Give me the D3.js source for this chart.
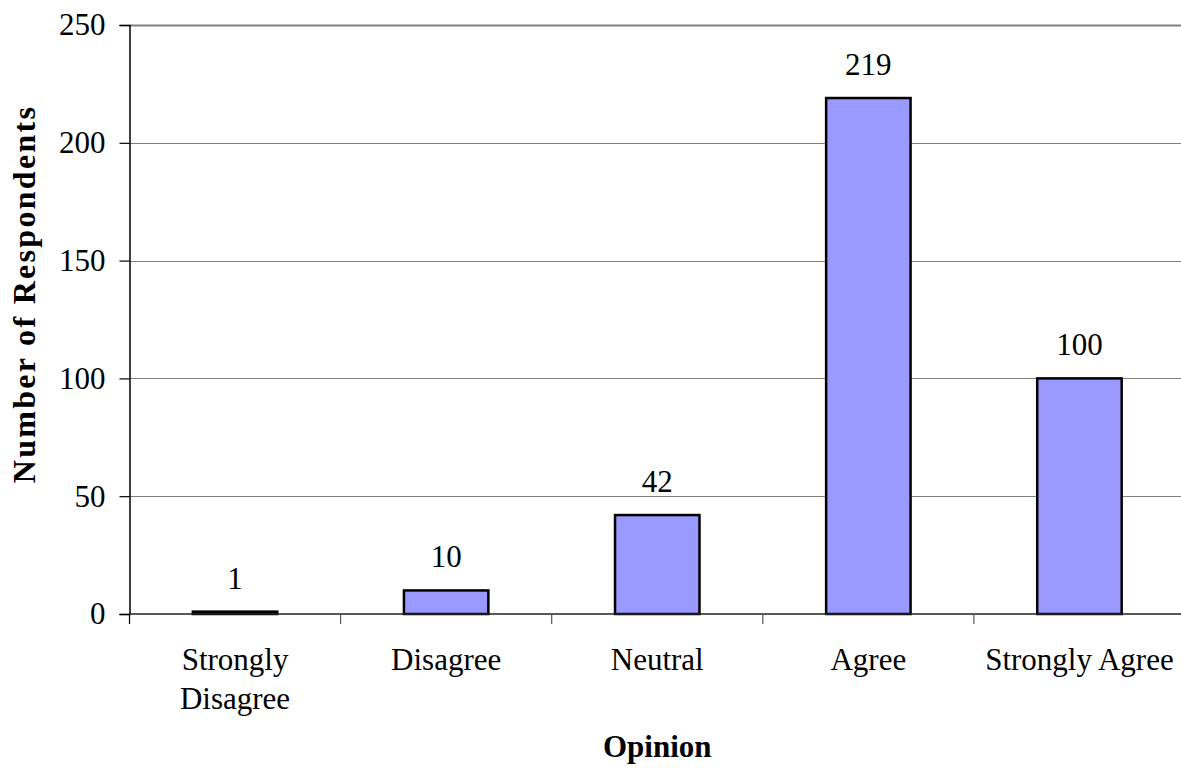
<!DOCTYPE html>
<html>
<head>
<meta charset="utf-8">
<script src="https://cdn.jsdelivr.net/npm/d3@7"></script>
<style>
  html, body { margin: 0; padding: 0; background: #fff; }
  svg { display: block; }
  text { font-family: "Liberation Serif", "Times New Roman", serif; fill: #000; }
</style>
</head>
<body>
<svg id="chart" width="1181" height="773"></svg>
<script>
// Survey responses by opinion
const categories = ["Strongly Disagree", "Disagree", "Neutral", "Agree", "Strongly Agree"];
const categoryLines = [["Strongly", "Disagree"], ["Disagree"], ["Neutral"], ["Agree"], ["Strongly Agree"]];
const respondents = [1, 10, 42, 219, 100];
const yTicks = [0, 50, 100, 150, 200, 250];

const svg = d3.select("#chart");
const margin = { left: 129.5, top: 25, bottom: 614 };
const plotRight = 1185;
const fontSize = 31;

const x = d3.scaleBand()
  .domain(categories)
  .range([margin.left, plotRight])
  .paddingInner(0.6)
  .paddingOuter(0.3);

const y = d3.scaleLinear()
  .domain([0, 250])
  .range([margin.bottom, margin.top]);

// Horizontal gridlines
svg.append("g")
  .selectAll("line")
  .data(yTicks.filter(d => d > 0))
  .join("line")
  .attr("x1", margin.left)
  .attr("x2", plotRight)
  .attr("y1", d => Math.round(y(d)) + 0.5)
  .attr("y2", d => Math.round(y(d)) + 0.5)
  .attr("stroke", "#808080")
  .attr("stroke-width", d => d === 250 ? 2 : 1);

// Bars
svg.append("g")
  .selectAll("rect")
  .data(respondents)
  .join("rect")
  .attr("x", (d, i) => x(categories[i]))
  .attr("width", x.bandwidth())
  .attr("y", d => y(d))
  .attr("height", d => y(0) - y(d))
  .attr("fill", "#9999ff")
  .attr("stroke", "#000")
  .attr("stroke-width", 2.5);

// Value labels
svg.append("g")
  .selectAll("text")
  .data(respondents)
  .join("text")
  .attr("x", (d, i) => x(categories[i]) + x.bandwidth() / 2)
  .attr("y", d => y(d) - 23)
  .attr("text-anchor", "middle")
  .attr("font-size", fontSize)
  .text(d => d);

// Y axis
const yAxis = svg.append("g")
  .attr("transform", `translate(${margin.left},0)`)
  .call(d3.axisLeft(y).tickValues(yTicks).tickSize(10).tickPadding(14));
yAxis.select(".domain").attr("stroke", "#000").attr("stroke-width", 1.5);
yAxis.selectAll(".tick line").attr("stroke", "#000").attr("stroke-width", 1.2);
yAxis.selectAll(".tick text")
  .attr("font-size", fontSize)
  .attr("font-family", "Liberation Serif, Times New Roman, serif")
  .attr("fill", "#000");

// X axis
const xTickScale = d3.scaleLinear().domain([0, 5]).range([margin.left, plotRight]);
const xAxis = svg.append("g");
xAxis.append("line")
  .attr("x1", margin.left).attr("x2", plotRight)
  .attr("y1", y(0)).attr("y2", y(0))
  .attr("stroke", "#222").attr("stroke-width", 1.5);
xAxis.selectAll("line.tick")
  .data(d3.range(0, 6))
  .join("line")
  .attr("class", "tick")
  .attr("x1", d => xTickScale(d)).attr("x2", d => xTickScale(d))
  .attr("y1", y(0)).attr("y2", y(0) + 10)
  .attr("stroke", d => d === 0 ? "#000" : "#555")
  .attr("stroke-width", 1.2);

xAxis.selectAll("text")
  .data(categoryLines)
  .join("text")
  .attr("text-anchor", "middle")
  .attr("font-size", fontSize)
  .attr("x", (d, i) => x(categories[i]) + x.bandwidth() / 2)
  .attr("y", 670)
  .each(function(lines) {
    d3.select(this).selectAll("tspan")
      .data(lines)
      .join("tspan")
      .attr("x", d3.select(this).attr("x"))
      .attr("dy", (l, j) => j === 0 ? 0 : 39)
      .text(l => l);
  });

// Axis titles
svg.append("text")
  .attr("x", (margin.left + plotRight) / 2)
  .attr("y", 757)
  .attr("text-anchor", "middle")
  .attr("font-size", fontSize)
  .attr("font-weight", "bold")
  .text("Opinion");

svg.append("text")
  .attr("transform", "translate(35,294) rotate(-90)")
  .attr("text-anchor", "middle")
  .attr("font-size", 32)
  .attr("font-weight", "bold")
  .attr("letter-spacing", 2.3)
  .text("Number of Respondents");
</script>
</body>
</html>
